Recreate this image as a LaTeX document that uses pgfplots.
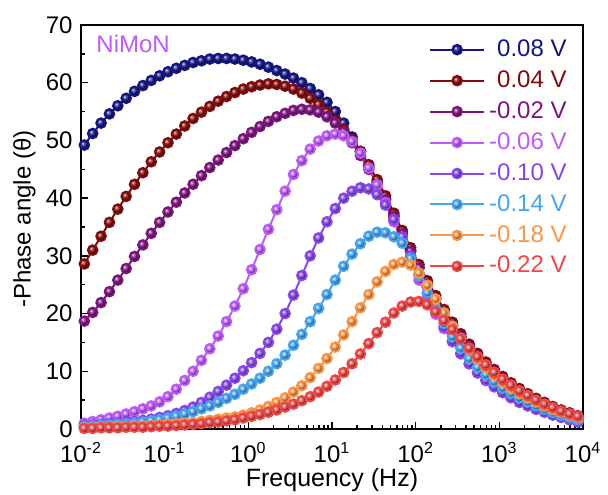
\documentclass[12pt,border=0pt]{standalone}
\usepackage{fontspec}
\setmainfont{Liberation Sans}
\usepackage{pgfplots}
\usepackage{pgfplotstable}
\pgfplotsset{compat=1.18}

\definecolor{c1}{RGB}{20,20,130}
\definecolor{c2}{RGB}{130,10,10}
\definecolor{c3}{RGB}{125,20,125}
\definecolor{c4}{RGB}{190,90,250}
\definecolor{c5}{RGB}{135,70,235}
\definecolor{c6}{RGB}{70,165,240}
\definecolor{c7}{RGB}{250,150,70}
\definecolor{c8}{RGB}{240,70,70}

% frequency (Hz) and -phase (deg) for each bias
\pgfplotstableread{
f         v1    v2    v3    v4    v5    v6    v7    v8
1.096e-2  49.2  28.6  18.7  1.0   0.6   0.4   0.2   0.1
1.380e-2  51.2  31.0  20.2  1.3   0.7   0.5   0.2   0.1
1.738e-2  53.0  33.4  21.9  1.6   0.8   0.6   0.3   0.2
2.188e-2  54.6  35.8  23.8  1.9   0.9   0.7   0.3   0.2
2.754e-2  56.0  38.1  25.8  2.2   1.0   0.8   0.4   0.2
3.467e-2  57.3  40.3  27.8  2.6   1.2   0.9   0.4   0.3
4.365e-2  58.5  42.4  29.9  3.0   1.3   1.0   0.5   0.3
5.495e-2  59.5  44.4  31.9  3.5   1.5   1.2   0.5   0.3
6.918e-2  60.4  46.3  33.9  4.0   1.7   1.4   0.6   0.4
8.710e-2  61.2  48.0  35.8  4.7   2.0   1.6   0.7   0.5
1.096e-1  61.9  49.6  37.6  5.6   2.3   1.9   0.8   0.5
1.380e-1  62.5  51.1  39.3  6.9   2.7   2.2   0.9   0.6
1.738e-1  63.0  52.5  40.9  8.4   3.2   2.6   1.0   0.7
2.188e-1  63.5  53.8  42.4  10.0  3.8   3.0   1.1   0.8
2.754e-1  63.8  54.9  43.9  11.9  4.6   3.5   1.3   0.9
3.467e-1  64.1  55.9  45.3  13.9  5.5   4.0   1.5   1.1
4.365e-1  64.2  56.8  46.6  16.1  6.5   4.6   1.7   1.2
5.495e-1  64.2  57.6  47.9  18.6  7.6   5.3   1.9   1.4
6.918e-1  64.1  58.3  49.1  21.3  8.8   6.0   2.1   1.6
8.710e-1  63.9  58.9  50.3  24.3  10.1  6.9   2.4   1.9
1.096     63.6  59.3  51.4  27.6  11.5  7.8   2.8   2.2
1.380     63.2  59.6  52.4  31.1  13.1  8.8   3.3   2.5
1.738     62.7  59.8  53.3  34.6  15.0  10.0  3.9   2.9
2.188     62.1  59.7  54.1  38.0  17.3  11.3  4.6   3.3
2.754     61.5  59.4  54.7  41.2  20.0  12.8  5.4   3.8
3.467     60.8  58.9  55.2  44.1  23.2  14.5  6.4   4.3
4.365     60.0  58.2  55.4  46.5  26.6  16.4  7.5   4.9
5.495     59.0  57.3  55.3  48.5  30.0  18.6  8.9   5.6
6.918     57.9  56.2  54.9  49.9  33.1  20.9  10.5  6.4
8.710     56.6  54.9  54.1  50.8  35.9  23.3  12.2  7.4
10.96     55.0  53.5  53.0  51.1  38.2  25.8  14.2  8.5
13.80     53.0  51.9  51.5  50.8  40.0  28.2  16.3  9.8
17.38     50.6  50.1  49.6  49.8  41.2  30.3  18.6  11.3
21.88     48.1  48.1  47.4  47.8  41.8  32.1  21.0  13.0
27.54     45.5  45.8  45.0  45.2  41.6  33.4  23.3  14.8
34.67     42.8  43.2  42.4  42.3  40.6  34.1  25.5  16.7
43.65     39.9  40.4  39.7  39.2  38.8  34.0  27.3  18.5
54.95     36.9  37.4  36.8  35.9  36.3  33.3  28.5  20.1
69.18     33.9  34.4  33.8  32.5  33.3  32.2  28.9  21.3
87.10     30.9  31.4  30.8  29.1  30.0  29.5  28.4  22.0
109.6     28.0  28.5  27.9  25.8  26.7  26.6  27.0  22.1
138.0     25.2  25.7  25.1  22.7  23.5  23.6  24.9  21.5
173.8     22.6  23.1  22.5  19.9  20.5  20.8  22.5  20.3
218.8     20.2  20.7  20.1  17.4  17.7  18.3  20.1  18.8
275.4     18.0  18.5  17.9  15.1  15.2  16.0  17.8  17.2
346.7     16.0  16.5  16.0  13.0  13.1  14.0  15.7  15.6
436.5     14.2  14.7  14.2  11.3  11.3  12.2  13.8  14.0
549.5     12.6  13.1  12.6  9.8   9.7   10.7  12.1  12.5
691.8     11.2  11.6  11.2  8.5   8.4   9.4   10.6  11.1
871.0     9.9   10.3  9.9   7.4   7.3   8.2   9.3   9.8
1096      8.7   9.1   8.7   6.4   6.3   7.1   8.1   8.6
1380      7.6   8.0   7.6   5.5   5.4   6.2   7.1   7.6
1738      6.6   7.0   6.7   4.8   4.6   5.4   6.2   6.6
2188      5.8   6.1   5.8   4.1   4.0   4.7   5.4   5.8
2754      5.0   5.3   5.0   3.5   3.4   4.0   4.7   5.0
3467      4.3   4.6   4.3   3.0   2.9   3.4   4.0   4.3
4365      3.6   3.9   3.7   2.5   2.4   2.9   3.4   3.7
5495      3.0   3.3   3.1   2.1   2.0   2.4   2.9   3.1
6918      2.5   2.8   2.6   1.7   1.6   2.0   2.4   2.6
8710      2.0   2.3   2.1   1.3   1.2   1.6   2.0   2.2
}\phasedata

\begin{document}
\begin{tikzpicture}
  \begin{axis}[
      scale only axis,
      width=251pt, height=202pt,
      xmode=log, log basis x=10,
      xmin=0.01, xmax=10000,
      ymin=0, ymax=70,
      ytick={0,10,...,70},
      minor y tick num=1,
      tick pos=left,
      tick align=inside,
      major tick length=3.5pt,
      minor tick length=2pt,
      axis line style={line width=0.8pt},
      every tick/.style={black, line width=0.7pt},
      /pgf/number format/assume math mode=true,
      xticklabel={10\textsuperscript{\pgfmathprintnumber[assume math mode=true]{\tick}}},
      tick label style={font=\fontsize{12}{14}\selectfont},
      xticklabel style={yshift=-2.5pt},
      xlabel={Frequency (Hz)},
      ylabel={-Phase angle (θ)},
      xlabel style={font=\fontsize{12.5}{15}\selectfont, yshift=5.5pt},
      ylabel style={font=\fontsize{12}{14}\selectfont, yshift=-3pt, xshift=4pt},
      every axis plot/.append style={line width=1pt},
      legend cell align=right,
      legend image code/.code={
        \draw[mark repeat=2, mark phase=2]
          plot coordinates {(0pt,0pt) (13.5pt,0pt) (27pt,0pt)};
      },
      legend style={
        draw=none, fill=none, inner sep=0pt,
        at={(0.976,0.975)}, anchor=north east,
        font=\fontsize{12}{14}\selectfont,
        row sep=1.3pt,
        /tikz/every odd column/.append style={column sep=0pt},
      },
    ]
    \addplot[c1, mark=ball, mark size=2.4pt, mark options={ball color=c1}]
      table[x=f, y=v1] {\phasedata};
    \addlegendentry{\textcolor{c1}{0.08 V}}
    \addplot[c2, mark=ball, mark size=2.4pt, mark options={ball color=c2}]
      table[x=f, y=v2] {\phasedata};
    \addlegendentry{\textcolor{c2}{0.04 V}}
    \addplot[c3, mark=ball, mark size=2.4pt, mark options={ball color=c3}]
      table[x=f, y=v3] {\phasedata};
    \addlegendentry{\textcolor{c3}{-0.02 V}}
    \addplot[c4, mark=ball, mark size=2.4pt, mark options={ball color=c4}]
      table[x=f, y=v4] {\phasedata};
    \addlegendentry{\textcolor{c4}{-0.06 V}}
    \addplot[c5, mark=ball, mark size=2.4pt, mark options={ball color=c5}]
      table[x=f, y=v5] {\phasedata};
    \addlegendentry{\textcolor{c5}{-0.10 V}}
    \addplot[c6, mark=ball, mark size=2.4pt, mark options={ball color=c6}]
      table[x=f, y=v6] {\phasedata};
    \addlegendentry{\textcolor{c6}{-0.14 V}}
    \addplot[c7, mark=ball, mark size=2.4pt, mark options={ball color=c7}]
      table[x=f, y=v7] {\phasedata};
    \addlegendentry{\textcolor{c7}{-0.18 V}}
    \addplot[c8, mark=ball, mark size=2.4pt, mark options={ball color=c8}]
      table[x=f, y=v8] {\phasedata};
    \addlegendentry{\textcolor{c8}{-0.22 V}}

    \node[anchor=west, inner sep=0pt, text=c4, font=\fontsize{12}{14}\selectfont]
      at (rel axis cs:0.03,0.953) {NiMoN};

    \coordinate (sw) at (rel axis cs:0,0);
    \coordinate (ne) at (rel axis cs:1,1);
  \end{axis}
  \pgfresetboundingbox
  \path[use as bounding box]
    ([shift={(-40.5pt,-33pt)}]sw) rectangle ([shift={(12.5pt,12.5pt)}]ne);
\end{tikzpicture}
\end{document}
